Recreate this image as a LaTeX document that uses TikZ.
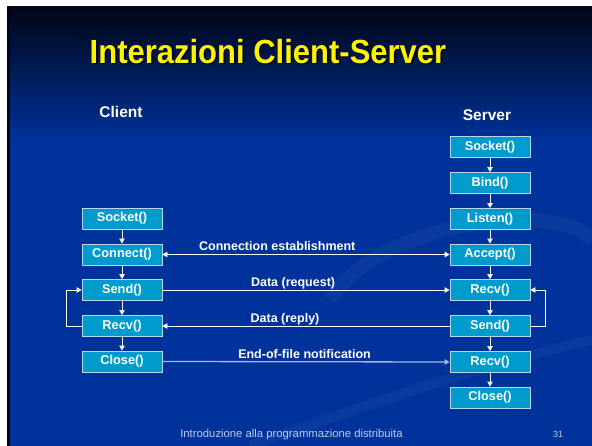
\documentclass[tikz,border=0pt]{standalone}
\usepackage{fontspec}
\setmainfont{Liberation Sans}
\usetikzlibrary{arrows.meta,positioning}
\definecolor{slideblue}{RGB}{0,50,155}
\definecolor{slidetop}{RGB}{0,6,22}
\definecolor{boxcyan}{RGB}{0,155,205}
\definecolor{boxedge}{RGB}{185,215,235}
\definecolor{footgray}{RGB}{190,205,235}
\definecolor{eofline}{RGB}{160,185,230}

\tikzset{
  callbox/.style={draw=boxedge, fill=boxcyan, line width=0.8pt,
    minimum width=80pt, minimum height=21pt, inner sep=0pt, text=white,
    font=\bfseries\fontsize{12.8}{14}\selectfont},
  flow/.style={draw=white!80!boxedge, line width=0.9pt, ->},
  msg/.style={draw=white, line width=0.9pt},
  msglabel/.style={text=white, inner sep=0pt, anchor=base, yshift=3.5pt,
    font=\bfseries\fontsize{12.5}{14}\selectfont},
  sidelabel/.style={text=white, inner sep=0pt, anchor=base,
    font=\bfseries\fontsize{15.5}{17}\selectfont},
  titletext/.style={anchor=base, inner sep=0pt, yscale=1.08,
    font=\bfseries\fontsize{31}{34}\selectfont}
}

\begin{document}
\begin{tikzpicture}[x=1pt,y=-1pt,>={Triangle[length=5pt,width=5.5pt]}]

\useasboundingbox (0,0) rectangle (592,446);
\fill[white] (0,0) rectangle (592,446);

% slide background
\fill[slideblue] (7,140) rectangle (592,446);
\shade[top color=slidetop, bottom color=slideblue] (7,7) rectangle (592,141);
\fill[slidetop] (7,7) rectangle (10,446);
\draw[white, opacity=0.045, line width=14pt] (330,300) .. controls (380,220) and (560,200) .. (592,240);
\draw[white, opacity=0.04, line width=10pt] (250,446) .. controls (380,400) and (500,360) .. (592,340);

% title
\node[titletext, text=black] at (269.5,65) {Interazioni Client-Server};
\node[titletext, text=yellow] (title) at (268,63.5) {Interazioni Client-Server};

\node[sidelabel] (client) at (121,118) {Client};
\node[sidelabel] (server) at (487,120.5) {Server};

% client column
\node[callbox] (cSocket)  at (122,218.5) {Socket()};
\node[callbox] (cConnect) at (122,254.5) {Connect()};
\node[callbox] (cSend)    at (122,290)   {Send()};
\node[callbox] (cRecv)    at (122,326)   {Recv()};
\node[callbox] (cClose)   at (122,361.5) {Close()};

% server column
\node[callbox] (sSocket)  at (490,147)   {Socket()};
\node[callbox] (sBind)    at (490,183)   {Bind()};
\node[callbox] (sListen)  at (490,219)   {Listen()};
\node[callbox] (sAccept)  at (490,254.5) {Accept()};
\node[callbox] (sRecv)    at (490,290)   {Recv()};
\node[callbox] (sSend)    at (490,326)   {Send()};
\node[callbox] (sRecvEof) at (490,362)   {Recv()};
\node[callbox] (sClose)   at (490,397.5) {Close()};

% vertical flow
\draw[flow] (cSocket) -- (cConnect);
\draw[flow] (cConnect) -- (cSend);
\draw[flow] (cSend) -- (cRecv);
\draw[flow] (cRecv) -- (cClose);
\draw[flow] (sSocket) -- (sBind);
\draw[flow] (sBind) -- (sListen);
\draw[flow] (sListen) -- (sAccept);
\draw[flow] (sAccept) -- (sRecv);
\draw[flow] (sRecv) -- (sSend);
\draw[flow] (sSend) -- (sRecvEof);
\draw[flow] (sRecvEof) -- (sClose);

% loops
\draw[msg, ->] (cRecv.west) -- ++(-15,0) |- (cSend.west);
\draw[msg, ->] (sSend.east) -- ++(15,0) |- (sRecv.east);

% messages
\draw[msg, <->] (cConnect.east) -- node[msglabel, pos=0.40] {Connection establishment} (sAccept.west);
\draw[msg, ->] (cSend.east) -- node[msglabel, pos=0.455] {Data (request)} (sRecv.west);
\draw[msg, ->] (sSend.west) -- node[msglabel, pos=0.573] {Data (reply)} (cRecv.east);
\draw[msg, draw=eofline, line width=1.3pt, ->] (cClose.east) -- node[msglabel, pos=0.495] {End-of-file notification} (sRecvEof.west);

% footer
\node[anchor=base, text=footgray, inner sep=0pt, font=\fontsize{11.3}{13}\selectfont] (footer) at (291.5,437) {Introduzione alla programmazione distribuita};
\node[anchor=base, text=footgray, inner sep=0pt, font=\fontsize{9}{11}\selectfont] (pagenum) at (558,437) {31};

\end{tikzpicture}
\end{document}
